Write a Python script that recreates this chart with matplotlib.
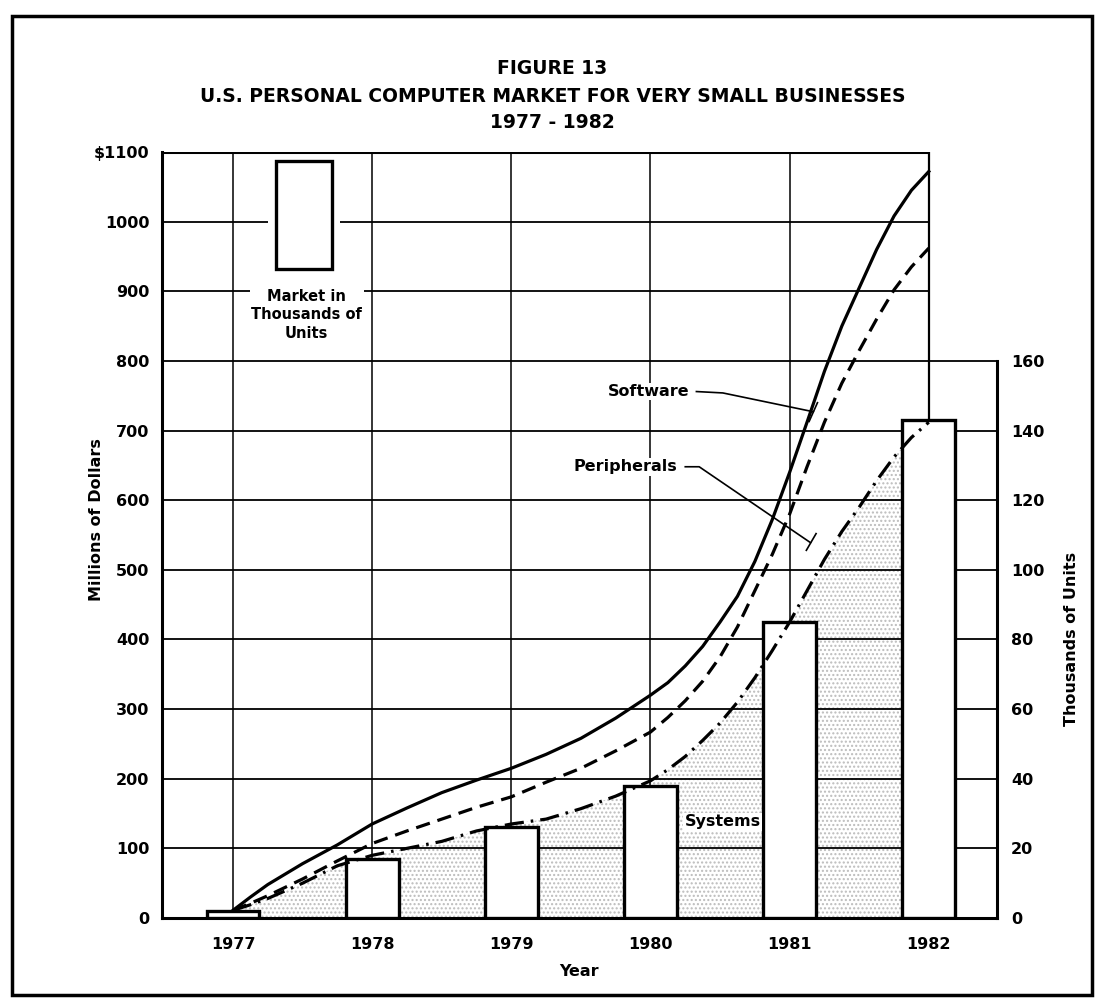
import matplotlib
matplotlib.use("Agg")
import matplotlib.pyplot as plt
from matplotlib.patches import Rectangle
import numpy as np

# ---------------- data ----------------
years = [1977, 1978, 1979, 1980, 1981, 1982]
units_thousands = [2, 17, 26, 38, 85, 143]

curve_years = [1977.0, 1977.125, 1977.25, 1977.5, 1977.75, 1978.0, 1978.25, 1978.5,
               1978.75, 1979.0, 1979.25, 1979.5, 1979.75, 1980.0, 1980.125, 1980.25,
               1980.375, 1980.5, 1980.625, 1980.75, 1980.875, 1981.0, 1981.125,
               1981.25, 1981.375, 1981.5, 1981.625, 1981.75, 1981.875, 1982.0]
software_total = [11, 30, 48, 78, 105, 135, 158, 180, 198, 215, 235, 258, 287, 320,
                  338, 362, 390, 425, 462, 512, 572, 640, 712, 785, 850, 905, 960,
                  1008, 1045, 1072]
peripherals_total = [11, 21, 32, 56, 82, 107, 125, 142, 159, 174, 195, 215, 240, 267,
                     288, 312, 340, 375, 418, 470, 522, 580, 648, 712, 768, 815, 860,
                     902, 935, 962]
systems = [11, 19, 28, 50, 75, 90, 100, 110, 125, 135, 142, 157, 175, 197, 213, 232,
           255, 280, 310, 345, 384, 425, 470, 515, 555, 590, 628, 662, 690, 712]

left_ticks = [0, 100, 200, 300, 400, 500, 600, 700, 800, 900, 1000, 1100]
left_ticklabels = ["0", "100", "200", "300", "400", "500", "600", "700", "800",
                   "900", "1000", "$1100"]
right_ticks = [0, 20, 40, 60, 80, 100, 120, 140, 160]

title_lines = ["FIGURE 13",
               "U.S. PERSONAL COMPUTER MARKET FOR VERY SMALL BUSINESSES",
               "1977 - 1982"]

# ---------------- style ----------------
FONT = ["DejaVu Sans"]
plt.rcParams["font.family"] = FONT
plt.rcParams["font.weight"] = "bold"
plt.rcParams["axes.labelweight"] = "bold"
FS = 11.5
W, H = 1105, 1005
fig = plt.figure(figsize=(W / 100, H / 100), dpi=100)
fig.patch.set_facecolor("white")

def px_rect(l, t, r, b):
    return [l / W, 1 - b / H, (r - l) / W, (b - t) / H]

XMIN, XMAX = 1976.49, 1982.49
ax = fig.add_axes(px_rect(162, 152, 997, 918))
ax.set_xlim(XMIN, XMAX)
ax.set_ylim(0, 1100)

ax2 = ax.twinx()   # units axis (bars)
ax2.set_ylim(0, 220)
ax3 = ax.twinx()   # curves layer (dollars)
ax3.set_ylim(0, 1100)

for a in (ax, ax2, ax3):
    for s in a.spines.values():
        s.set_visible(False)

ax.spines["left"].set_visible(True)
ax.spines["left"].set_linewidth(2.2)
ax.spines["bottom"].set_visible(True)
ax.spines["bottom"].set_linewidth(2.2)
ax2.spines["right"].set_visible(True)
ax2.spines["right"].set_linewidth(2.2)
ax2.spines["right"].set_bounds(0, 160)

# top frame line
ax.plot([XMIN, 1982], [1100, 1100], color="black", lw=2.2, solid_capstyle="butt", zorder=2)

# gridlines
for v in left_ticks[1:-1]:
    right = XMAX if v <= 800 else 1982
    ax.plot([XMIN, right], [v, v], color="black", lw=1.3, zorder=1)
for yr in years:
    ax.plot([yr, yr], [0, 1100], color="black", lw=1.1 if yr < 1982 else 1.6, zorder=1)

# stipple shading under systems curve
ax.fill_between(curve_years, 0, systems, facecolor="white", edgecolor="#bcbcbc",
                hatch="....", linewidth=0, zorder=0.5)

# ticks
ax.set_yticks(left_ticks)
ax.set_yticklabels(left_ticklabels, fontsize=FS)
ax.set_xticks(years)
ax.set_xticklabels([str(y) for y in years], fontsize=FS)
ax.tick_params(axis="both", length=0)
ax.tick_params(axis="y", pad=9)
ax.tick_params(axis="x", pad=14)
ax2.set_yticks(right_ticks)
ax2.set_yticklabels([str(t) for t in right_ticks], fontsize=FS)
ax2.tick_params(axis="y", length=0, pad=10)
ax3.tick_params(left=False, right=False, labelleft=False, labelright=False,
                bottom=False, labelbottom=False)

ax.set_xlabel("Year", fontsize=FS, labelpad=8)
ax.set_ylabel("Millions of Dollars", fontsize=FS)
ax2.set_ylabel("Thousands of Units", fontsize=FS)
ax2.yaxis.set_label_coords(1.08, 0.364)
ax.yaxis.set_label_coords(-0.07, 0.52)

# bars
ax2.bar(years, units_thousands, width=0.38, facecolor="white", edgecolor="black",
        linewidth=2.4, zorder=3)

# curves
LW = 2.3
ax3.plot(curve_years, software_total, color="black", lw=LW, solid_joinstyle="round")
ax3.plot(curve_years, peripherals_total, color="black", lw=LW, linestyle=(0, (4.5, 2.5)))
ax3.plot(curve_years, systems, color="black", lw=LW, linestyle=(0, (6, 2.2, 0.8, 2.2)))

# legend symbol
ax3.add_patch(Rectangle((1977.25, 945), 0.52, 130, facecolor="white", edgecolor="none",
                        lw=0, zorder=4))
ax3.add_patch(Rectangle((1977.31, 932), 0.40, 155, facecolor="white", edgecolor="black",
                        lw=2.4, zorder=5))
ax3.text(1977.53, 866, "Market in\nThousands of\nUnits", ha="center", va="center",
         fontsize=10.5, linespacing=1.3, zorder=6,
         bbox=dict(facecolor="white", edgecolor="none", pad=1.0))

# series labels with leader lines
lab = dict(fontsize=FS, zorder=6)
ax3.text(1980.28, 756, "Software", ha="right", va="center",
         bbox=dict(facecolor="white", edgecolor="none", pad=1), **lab)
ax3.plot([1980.33, 1980.52, 1981.17], [756, 754, 727], color="black", lw=1.2)
ax3.plot([1981.14, 1981.2], [713, 740], color="black", lw=1.2)

ax3.text(1980.19, 648, "Peripherals", ha="right", va="center",
         bbox=dict(facecolor="white", edgecolor="none", pad=1), **lab)
ax3.plot([1980.25, 1980.35, 1981.15], [648, 648, 539], color="black", lw=1.2)
ax3.plot([1981.12, 1981.19], [528, 552], color="black", lw=1.2)

ax3.text(1980.52, 138, "Systems", ha="center", va="center",
         bbox=dict(facecolor="white", edgecolor="none", pad=1), **lab)

# title
for text, ypx in zip(title_lines, [68, 96, 122]):
    fig.text(0.5, 1 - ypx / H, text, ha="center", va="center", fontsize=13.5)

# outer frame
fig.add_artist(Rectangle((12 / W, 1 - 995 / H), (1092 - 12) / W, (995 - 16) / H,
                         transform=fig.transFigure, fill=False, lw=2.5, edgecolor="black"))

fig.savefig("out.png", dpi=100, facecolor="white")
